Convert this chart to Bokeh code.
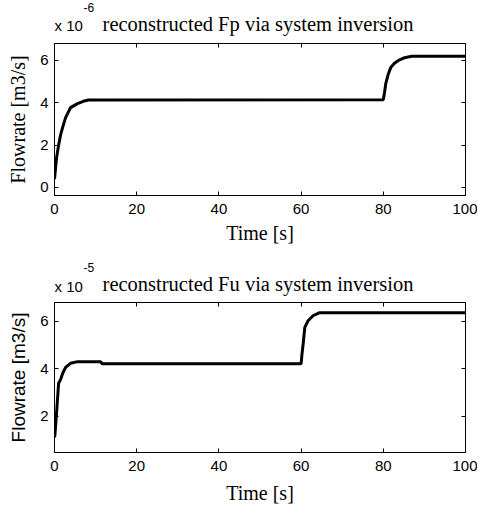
from bokeh.plotting import figure
from bokeh.layouts import column
from bokeh.models import (LinearAxis, FixedTicker, CustomJSTickFormatter, Label, Range1d)
from bokeh.embed import file_html
from bokeh.resources import INLINE

# ---- data (values in displayed units: top x1e-6, bottom x1e-5) ----
fp_time = [0, 0.5, 1.0, 1.5, 2.0, 2.7, 3.9, 5.6, 7.0, 8.3,
           80.0, 80.3, 80.6, 81.2, 81.8, 82.7, 83.7, 85.2, 86.9, 100]
fp_flow = [0.4, 1.4, 2.0, 2.5, 2.85, 3.3, 3.77, 3.96, 4.07, 4.13,
           4.14, 4.5, 4.9, 5.35, 5.66, 5.87, 6.0, 6.13, 6.2, 6.2]

fu_time = [0, 0.1, 0.5, 1.0, 1.5, 2.0, 2.7, 3.9, 5.6, 11.2, 11.6,
           60.0, 60.2, 60.5, 60.9, 61.7, 62.9, 64.5, 100]
fu_flow = [1.1, 1.2, 2.13, 3.39, 3.55, 3.81, 4.06, 4.23, 4.3, 4.3, 4.21,
           4.21, 4.6, 5.05, 5.75, 6.03, 6.24, 6.37, 6.37]

x_ticks = [0, 20, 40, 60, 80, 100]
fp_yticks = [0, 2, 4, 6]
fu_yticks = [2, 4, 6]

SERIF = "Liberation Serif"
SANS = "Liberation Sans"


def make_header(height, title, exponent, title_y, x10_y, exp_y):
    h = figure(output_backend="svg", toolbar_location=None,
               frame_width=411, frame_height=height, min_border=0,
               min_border_left=54, min_border_right=12,
               x_axis_type=None, y_axis_type=None,
               x_range=Range1d(0, 411), y_range=Range1d(0, height),
               background_fill_color="white", border_fill_color="white")
    h.grid.visible = False
    h.outline_line_color = None
    h.add_layout(Label(x=203.5, y=title_y, x_units="screen", y_units="screen",
                       text=title, text_font=SERIF, text_font_size="20.5px",
                       text_align="center", text_baseline="alphabetic",
                       text_color="black"))
    h.add_layout(Label(x=0, y=x10_y, x_units="screen", y_units="screen",
                       text="x 10", text_font=SANS, text_font_size="15px",
                       text_align="left", text_baseline="alphabetic",
                       text_color="black"))
    h.add_layout(Label(x=29, y=exp_y, x_units="screen", y_units="screen",
                       text=exponent, text_font=SANS, text_font_size="12px",
                       text_align="left", text_baseline="alphabetic",
                       text_color="black"))
    return h


def make_panel(t, v, yrange, yticks, ylabel_font, ylabel_size, frame_h,
               xlabel_standoff):
    p = figure(output_backend="svg", toolbar_location=None,
               frame_width=411, frame_height=frame_h,
               x_range=Range1d(0, 100), y_range=Range1d(*yrange),
               min_border_left=54, min_border_right=12,
               min_border_top=0, min_border_bottom=55,
               background_fill_color="white", border_fill_color="white")
    p.grid.visible = False
    p.outline_line_color = "black"
    p.outline_line_width = 1

    p.line(t, v, line_color="black", line_width=3)

    for ax in (p.xaxis[0], p.yaxis[0]):
        ax.major_tick_in = 4
        ax.major_tick_out = 0
        ax.minor_tick_line_color = None
        ax.axis_line_color = "black"
        ax.major_tick_line_color = "black"
        ax.major_label_text_font = SANS
        ax.major_label_text_font_size = "15px"
        ax.major_label_text_color = "black"
        ax.axis_label_text_color = "black"
        ax.axis_label_text_font_style = "normal"
    p.xaxis[0].ticker = FixedTicker(ticks=x_ticks)
    p.yaxis[0].ticker = FixedTicker(ticks=yticks)
    p.xaxis[0].axis_label = "Time [s]"
    p.xaxis[0].axis_label_text_font = SERIF
    p.xaxis[0].axis_label_text_font_size = "20px"
    p.xaxis[0].major_label_standoff = 8
    p.xaxis[0].axis_label_standoff = xlabel_standoff
    p.yaxis[0].axis_label = "Flowrate [m3/s]"
    p.yaxis[0].axis_label_text_font = ylabel_font
    p.yaxis[0].axis_label_text_font_size = ylabel_size
    p.yaxis[0].major_label_standoff = 6
    p.yaxis[0].axis_label_standoff = 8

    blank = CustomJSTickFormatter(code="return ''")
    top = LinearAxis(ticker=FixedTicker(ticks=x_ticks), formatter=blank,
                     major_tick_in=4, major_tick_out=0,
                     minor_tick_line_color=None, axis_line_color="black",
                     major_tick_line_color="black",
                     major_label_standoff=0, major_label_text_font_size="0px")
    right = LinearAxis(ticker=FixedTicker(ticks=yticks), formatter=blank,
                       major_tick_in=4, major_tick_out=0,
                       minor_tick_line_color=None, axis_line_color="black",
                       major_tick_line_color="black",
                       major_label_standoff=0, major_label_text_font_size="0px")
    p.add_layout(top, "above")
    p.add_layout(right, "right")
    return p


h1 = make_header(43, "reconstructed Fp via system inversion", "-6", 20, 18, 36)
p1 = make_panel(fp_time, fp_flow, (-0.38, 6.8), fp_yticks,
                SERIF, "20px", 152, 5)
h2 = make_header(52, "reconstructed Fu via system inversion", "-5", 19, 16.5, 35)
p2 = make_panel(fu_time, fu_flow, (0.46, 6.8), fu_yticks,
                SANS, "19px", 150, 8)

layout = column(h1, p1, h2, p2)
open("out.html", "w").write(file_html(layout, INLINE))
